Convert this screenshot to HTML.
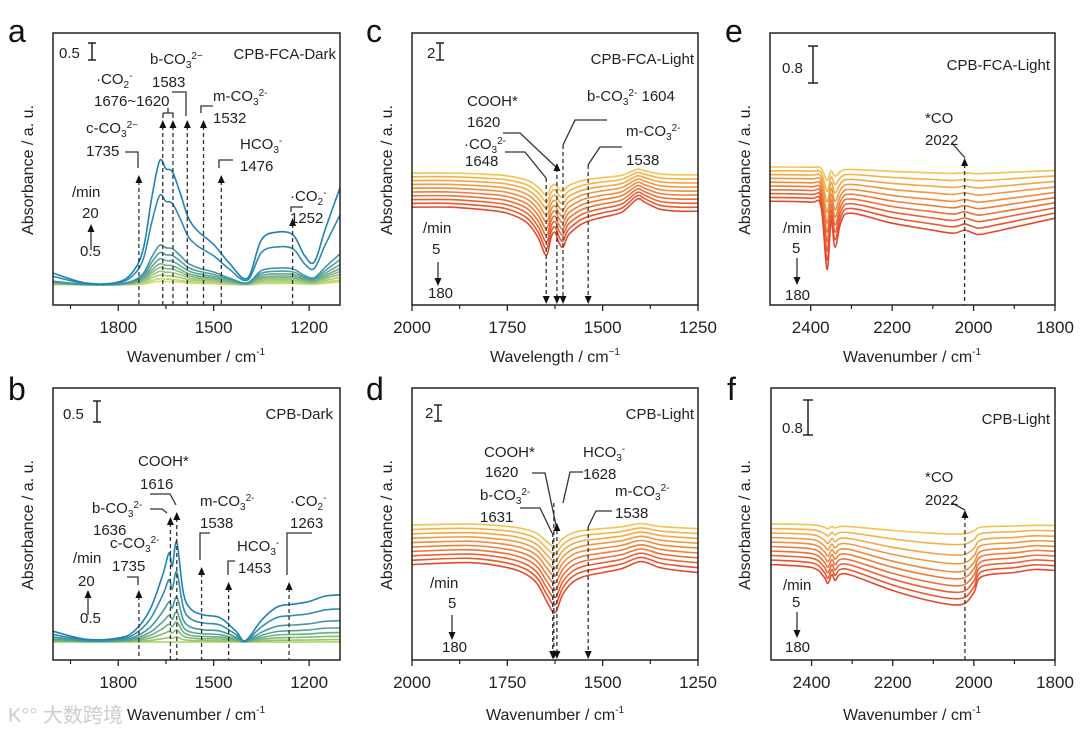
<!DOCTYPE html>
<html><head><meta charset="utf-8">
<style>
html,body{margin:0;padding:0;background:#fff;}
svg{display:block;font-family:"Liberation Sans",Arial,sans-serif;}
.t{font-size:15px;fill:#222;}
.tk{font-size:17px;fill:#222;}
.ti{font-size:16px;fill:#222;}
.pl{font-size:32px;fill:#111;}
.s{font-size:10px;}
</style></head>
<body>
<svg id="fig" width="1080" height="731" viewBox="0 0 1080 731" xmlns="http://www.w3.org/2000/svg">
<rect width="1080" height="731" fill="#fff"/>
<g id="curves"></g>
<g id="axes"></g>
<g id="marks" stroke="#333" stroke-width="1.3" fill="none"></g>

<text class="pl" x="8" y="42">a</text>
<text class="pl" x="8" y="400">b</text>
<text class="pl" x="366" y="42">c</text>
<text class="pl" x="366" y="400">d</text>
<text class="pl" x="725" y="42">e</text>
<text class="pl" x="727" y="400">f</text>

<text class="ti" x="196" y="362" text-anchor="middle">Wavenumber / cm<tspan class="s" dy="-7">-1</tspan></text>
<text class="ti" x="196" y="720" text-anchor="middle">Wavenumber / cm<tspan class="s" dy="-7">-1</tspan></text>
<text class="ti" x="555" y="362" text-anchor="middle">Wavelength / cm<tspan class="s" dy="-7">−1</tspan></text>
<text class="ti" x="555" y="720" text-anchor="middle">Wavenumber / cm<tspan class="s" dy="-7">-1</tspan></text>
<text class="ti" x="912" y="362" text-anchor="middle">Wavenumber / cm<tspan class="s" dy="-7">-1</tspan></text>
<text class="ti" x="912" y="720" text-anchor="middle">Wavenumber / cm<tspan class="s" dy="-7">-1</tspan></text>
<text class="ti" transform="translate(33,170) rotate(-90)" text-anchor="middle">Absorbance / a. u.</text>
<text class="ti" transform="translate(33,525) rotate(-90)" text-anchor="middle">Absorbance / a. u.</text>
<text class="ti" transform="translate(392,170) rotate(-90)" text-anchor="middle">Absorbance / a. u.</text>
<text class="ti" transform="translate(392,525) rotate(-90)" text-anchor="middle">Absorbance / a. u.</text>
<text class="ti" transform="translate(750,170) rotate(-90)" text-anchor="middle">Absorbance / a. u.</text>
<text class="ti" transform="translate(750,525) rotate(-90)" text-anchor="middle">Absorbance / a. u.</text>

<g>
<text class="t" x="59" y="58">0.5</text>
<path d="M92 43V60M88 43H96M88 60H96" stroke="#222" stroke-width="1.5"/>
<text class="t" x="336" y="59" text-anchor="end" font-size="16">CPB-FCA-Dark</text>
<text class="t" x="96" y="84">·CO<tspan class="s" dy="4">2</tspan><tspan class="s" dy="-9">-</tspan></text>
<text class="t" x="94" y="106">1676~1620</text>
<text class="t" x="150" y="64">b-CO<tspan class="s" dy="4">3</tspan><tspan class="s" dy="-9">2−</tspan></text>
<text class="t" x="152" y="87">1583</text>
<text class="t" x="213" y="101">m-CO<tspan class="s" dy="4">3</tspan><tspan class="s" dy="-9">2-</tspan></text>
<text class="t" x="213" y="123">1532</text>
<text class="t" x="86" y="133">c-CO<tspan class="s" dy="4">3</tspan><tspan class="s" dy="-9">2−</tspan></text>
<text class="t" x="86" y="156">1735</text>
<text class="t" x="240" y="149">HCO<tspan class="s" dy="4">3</tspan><tspan class="s" dy="-9">-</tspan></text>
<text class="t" x="240" y="171">1476</text>
<text class="t" x="290" y="201">·CO<tspan class="s" dy="4">2</tspan><tspan class="s" dy="-9">-</tspan></text>
<text class="t" x="290" y="223">1252</text>
<text class="t" x="72" y="197">/min</text>
<text class="t" x="82" y="218">20</text>
<text class="t" x="80" y="256">0.5</text>
</g>
<g>
<text class="t" x="63" y="419">0.5</text>
<path d="M97 401V422M93 401H101M93 422H101" stroke="#222" stroke-width="1.5"/>
<text class="t" x="333" y="419" text-anchor="end" font-size="16">CPB-Dark</text>
<text class="t" x="138" y="466">COOH*</text>
<text class="t" x="140" y="489">1616</text>
<text class="t" x="92" y="513">b-CO<tspan class="s" dy="4">3</tspan><tspan class="s" dy="-9">2-</tspan></text>
<text class="t" x="93" y="535">1636</text>
<text class="t" x="110" y="548">c-CO<tspan class="s" dy="4">3</tspan><tspan class="s" dy="-9">2-</tspan></text>
<text class="t" x="112" y="571">1735</text>
<text class="t" x="200" y="506">m-CO<tspan class="s" dy="4">3</tspan><tspan class="s" dy="-9">2-</tspan></text>
<text class="t" x="200" y="528">1538</text>
<text class="t" x="237" y="551">HCO<tspan class="s" dy="4">3</tspan><tspan class="s" dy="-9">-</tspan></text>
<text class="t" x="238" y="573">1453</text>
<text class="t" x="290" y="506">·CO<tspan class="s" dy="4">2</tspan><tspan class="s" dy="-9">-</tspan></text>
<text class="t" x="290" y="528">1263</text>
<text class="t" x="73" y="563">/min</text>
<text class="t" x="78" y="586">20</text>
<text class="t" x="80" y="623">0.5</text>
</g>
<g>
<text class="t" x="427" y="58">2</text>
<path d="M440 43V60M436 43H444M436 60H444" stroke="#222" stroke-width="1.5"/>
<text class="t" x="694" y="64" text-anchor="end" font-size="16">CPB-FCA-Light</text>
<text class="t" x="467" y="106">COOH*</text>
<text class="t" x="467" y="127">1620</text>
<text class="t" x="464" y="149">·CO<tspan class="s" dy="4">3</tspan><tspan class="s" dy="-9">2-</tspan></text>
<text class="t" x="465" y="166">1648</text>
<text class="t" x="587" y="101">b-CO<tspan class="s" dy="4">3</tspan><tspan class="s" dy="-9">2-</tspan><tspan dy="5"> 1604</tspan></text>
<text class="t" x="626" y="136">m-CO<tspan class="s" dy="4">3</tspan><tspan class="s" dy="-9">2-</tspan></text>
<text class="t" x="626" y="165">1538</text>
<text class="t" x="423" y="233">/min</text>
<text class="t" x="432" y="254">5</text>
<text class="t" x="428" y="298">180</text>
</g>
<g>
<text class="t" x="425" y="418">2</text>
<path d="M438 405V421M434 405H442M434 421H442" stroke="#222" stroke-width="1.5"/>
<text class="t" x="694" y="419" text-anchor="end" font-size="16">CPB-Light</text>
<text class="t" x="484" y="457">COOH*</text>
<text class="t" x="485" y="477">1620</text>
<text class="t" x="583" y="457">HCO<tspan class="s" dy="4">3</tspan><tspan class="s" dy="-9">-</tspan></text>
<text class="t" x="583" y="479">1628</text>
<text class="t" x="480" y="500">b-CO<tspan class="s" dy="4">3</tspan><tspan class="s" dy="-9">2-</tspan></text>
<text class="t" x="480" y="522">1631</text>
<text class="t" x="615" y="496">m-CO<tspan class="s" dy="4">3</tspan><tspan class="s" dy="-9">2-</tspan></text>
<text class="t" x="615" y="518">1538</text>
<text class="t" x="430" y="588">/min</text>
<text class="t" x="448" y="608">5</text>
<text class="t" x="442" y="652">180</text>
</g>
<g>
<text class="t" x="782" y="73">0.8</text>
<path d="M813 46V83M808 46H818M808 83H818" stroke="#222" stroke-width="1.5"/>
<text class="t" x="1050" y="70" text-anchor="end" font-size="16">CPB-FCA-Light</text>
<text class="t" x="925" y="123">*CO</text>
<text class="t" x="925" y="145">2022</text>
<text class="t" x="783" y="233">/min</text>
<text class="t" x="792" y="253">5</text>
<text class="t" x="785" y="300">180</text>
</g>
<g>
<text class="t" x="782" y="433">0.8</text>
<path d="M808 400V435M803 400H813M803 435H813" stroke="#222" stroke-width="1.5"/>
<text class="t" x="1050" y="424" text-anchor="end" font-size="16">CPB-Light</text>
<text class="t" x="925" y="482">*CO</text>
<text class="t" x="925" y="505">2022</text>
<text class="t" x="783" y="590">/min</text>
<text class="t" x="792" y="607">5</text>
<text class="t" x="785" y="652">180</text>
</g>
<text x="8" y="722" font-size="20" fill="#ccc" font-family="'Liberation Sans','Noto Sans CJK SC',sans-serif">K°° 大数跨境</text>
</svg>

<script>
const aWn  = [2005,1900,1800,1750,1720,1695,1670,1650,1630,1605,1580,1550,1500,1450,1394,1350,1300,1250,1215,1184,1150,1103];
const aAbs = [0.44,0.07,0.11,0.55,1.4,3.2,4.6,4.3,4.2,3.4,2.5,2.0,1.5,0.8,0.25,1.67,1.96,1.85,1.1,0.85,2.04,3.6];
const aScales = [1,0.72,0.32,0.26,0.21,0.17,0.14,0.11,0.08,0.05,0.03];
const bWn  = [2005,1900,1800,1750,1700,1660,1640,1630,1616,1595,1570,1530,1480,1430,1400,1350,1300,1250,1200,1150,1103];
const bAbs = [0.4,0.1,0.15,0.4,1.2,2.5,3.3,2.8,3.7,1.8,1.2,1.0,0.9,0.4,0.05,0.8,1.3,1.4,1.5,1.7,1.75];
const bScales = [1,0.7,0.45,0.3,0.2,0.12,0.05,0];
const cWn  = [2000,1900,1800,1750,1700,1670,1648,1635,1625,1615,1604,1590,1560,1538,1500,1450,1410,1390,1350,1300,1250];
const cAbs = [0,0,-0.3,-0.6,-1.5,-3,-4.8,-3,-2.5,-3.5,-4,-2.8,-1.8,-1.4,-1,-0.5,0.8,0.5,-0.2,-0.4,-0.4];
const cOffsets = [0,-0.38,-0.76,-1.14,-1.52,-1.9,-2.28,-2.66,-3.04,-3.42];
const cScales  = [0.46,0.52,0.58,0.64,0.7,0.76,0.82,0.88,0.94,1];
const dWn  = [2000,1850,1750,1700,1670,1645,1625,1605,1580,1550,1500,1450,1400,1350,1300,1250];
const dAbs = [0,0.2,-0.3,-1.0,-2,-3.8,-4.8,-3,-1.8,-1.2,-0.8,-0.4,0.3,-0.3,-0.6,-0.8];
const dOffsets = [0,-0.44,-0.88,-1.32,-1.76,-2.2,-2.64,-3.08,-3.52,-3.96];
const dScales  = [0.45,0.51,0.57,0.63,0.69,0.75,0.81,0.87,0.93,1];
const eWn  = [2500,2400,2375,2360,2350,2340,2325,2300,2200,2100,2050,2022,2000,1980,1900,1800];
const eAbs = [0,-0.1,-0.5,-6.8,-2,-4.6,-2,-1.2,-2.2,-2.9,-3.2,-2.9,-3.2,-3.3,-2.6,-1.7];
const eOffsets = [0,-0.38,-0.76,-1.14,-1.52,-1.9,-2.28,-2.66,-3.04,-3.42];
const eScales  = [0.2,0.3,0.4,0.5,0.6,0.68,0.76,0.84,0.92,1];
const fWn  = [2500,2400,2370,2360,2350,2342,2330,2300,2200,2100,2030,2000,1980,1900,1850,1800];
const fAbs = [0,-0.3,-1.2,-1.9,-1.0,-1.6,-1.0,-1.1,-2.6,-3.7,-4.0,-2.8,-1.2,-0.8,-0.5,-0.6];
const fOffsets = [0,-0.45,-0.9,-1.35,-1.8,-2.25,-2.7,-3.15,-3.6,-4.05];
const fScales  = [0.25,0.4,0.55,0.65,0.74,0.8,0.86,0.91,0.96,1];
const abTicks = [1800,1500,1200];
const abMinor = [1950,1650,1350];
const cdTicks = [2000,1750,1500,1250];
const cdMinor = [1875,1625,1375];
const efTicks = [2400,2200,2000,1800];
const efMinor = [2300,2100,1900];
const aBands = [1735,1660,1628,1583,1532,1476,1252];
const bBands = [1735,1636,1616,1538,1453,1263];
const cBands = [1648,1620,1604,1538];
const dBands = [1631,1628,1620,1538];
const eBands = [2022];
const fBands = [2022];

const NS = "http://www.w3.org/2000/svg";
const gC = document.getElementById('curves');
const gA = document.getElementById('axes');
const gM = document.getElementById('marks');

function mk(tag, attrs, parent){
  const e = document.createElementNS(NS, tag);
  for (const k in attrs) e.setAttribute(k, attrs[k]);
  parent.appendChild(e);
  return e;
}
function panel(x0,x1,y0,y1,wLeft,wRight,base,k){
  return {x0,x1,y0,y1,
    x: w => x0 + (wLeft - w)/(wLeft - wRight)*(x1-x0),
    y: v => base - v*k};
}
const P = {
  a: panel(53,340,33,305,2005,1103,285,27),
  b: panel(53,340,388,660,2005,1103,642,27),
  c: panel(412,698,33,305,2000,1250,173,10),
  d: panel(412,698,388,660,2000,1250,525,10),
  e: panel(770,1055,33,305,2500,1800,167,10),
  f: panel(771,1055,388,660,2500,1800,524,10)
};
function smoothPath(pts){
  let d = `M${pts[0][0].toFixed(1)},${pts[0][1].toFixed(1)}`;
  for (let i=0;i<pts.length-1;i++){
    const p0=pts[Math.max(0,i-1)], p1=pts[i], p2=pts[i+1], p3=pts[Math.min(pts.length-1,i+2)];
    const c1=[p1[0]+(p2[0]-p0[0])/6, p1[1]+(p2[1]-p0[1])/6];
    const c2=[p2[0]-(p3[0]-p1[0])/6, p2[1]-(p3[1]-p1[1])/6];
    d += ` C${c1[0].toFixed(1)},${c1[1].toFixed(1)} ${c2[0].toFixed(1)},${c2[1].toFixed(1)} ${p2[0].toFixed(1)},${p2[1].toFixed(1)}`;
  }
  return d;
}
function lerpColor(c1,c2,t){
  const h=c=>[parseInt(c.slice(1,3),16),parseInt(c.slice(3,5),16),parseInt(c.slice(5,7),16)];
  const a=h(c1), b=h(c2);
  return 'rgb('+a.map((v,i)=>Math.round(v+(b[i]-v)*t)).join(',')+')';
}
function drawSeries(key, wn, abs, scales, offsets, cStart, cEnd){
  const p = P[key];
  const n = scales.length;
  const order = offsets ? [...Array(n).keys()] : [...Array(n).keys()].reverse();
  order.forEach(i => {
    const off = offsets ? offsets[i] : 0;
    const pts = wn.map((w,j) => [p.x(w), p.y(off + scales[i]*abs[j])]);
    const t = n>1 ? i/(n-1) : 0;
    const path = mk('path', {d: smoothPath(pts), fill:'none', stroke: lerpColor(cStart,cEnd,t), 'stroke-width':1.6}, gC);
    
    
  });
}
drawSeries('a', aWn, aAbs, aScales, null, '#1d82b6', '#cfe06a');
drawSeries('b', bWn, bAbs, bScales, null, '#1d82b6', '#a9d15a');
drawSeries('c', cWn, cAbs, cScales, cOffsets, '#f4c24e', '#e5482d');
drawSeries('d', dWn, dAbs, dScales, dOffsets, '#f4c24e', '#e5482d');
drawSeries('e', eWn, eAbs, eScales, eOffsets, '#f4c24e', '#e5482d');
drawSeries('f', fWn, fAbs, fScales, fOffsets, '#f4c24e', '#e5482d');

function drawAxes(key, ticks, minor){
  const p = P[key];
  const fr = mk('rect', {x:p.x0, y:p.y0, width:p.x1-p.x0, height:p.y1-p.y0, fill:'none', stroke:'#222', 'stroke-width':1.5}, gA);
  
  
  ticks.forEach(w => {
    const x = p.x(w);
    mk('line', {x1:x, x2:x, y1:p.y1, y2:p.y1+6, stroke:'#222','stroke-width':1.3}, gA);
    const t = mk('text', {x:x, y:p.y1+28, 'text-anchor':'middle', class:'tk'}, gA);
    t.textContent = w;
    
    
  });
  minor.forEach(w => {
    const x = p.x(w);
    mk('line', {x1:x, x2:x, y1:p.y1, y2:p.y1+4, stroke:'#222','stroke-width':1.2}, gA);
  });
}
drawAxes('a', abTicks, abMinor);
drawAxes('b', abTicks, abMinor);
drawAxes('c', cdTicks, cdMinor);
drawAxes('d', cdTicks, cdMinor);
drawAxes('e', efTicks, efMinor);
drawAxes('f', efTicks, efMinor);

function tri(x,y,up){
  const d = up ? `M${x-3.5},${y+8} L${x+3.5},${y+8} L${x},${y} Z` : `M${x-3.5},${y-8} L${x+3.5},${y-8} L${x},${y} Z`;
  mk('path', {d, fill:'#111', stroke:'none'}, gM);
}
function bandUp(key, w, tipY){
  const p = P[key], x = p.x(w);
  const l = mk('line', {x1:x, x2:x, y1:tipY+6, y2:p.y1, 'stroke-dasharray':'4,3'}, gM);
  
  
  tri(x, tipY, true);
}
function bandDown(key, w, topY){
  const p = P[key], x = p.x(w);
  const l = mk('line', {x1:x, x2:x, y1:topY, y2:p.y1-6, 'stroke-dasharray':'4,3'}, gM);
  
  
  tri(x, p.y1-1, false);
}
function poly(pts){ mk('polyline', {points: pts.map(q=>q.join(',')).join(' ')}, gM); }

const aTips = [175,120,120,120,120,175,218];
aBands.forEach((w,i)=>bandUp('a', w, aTips[i]));
poly([[125,152],[138,152],[138,168]]);
poly([[163,113],[163,118]]); poly([[163,113],[173,113],[173,118]]); poly([[168,113],[168,108]]);
poly([[172,92],[186,92],[186,116]]);
poly([[213,106],[201,106],[201,113]]);
poly([[233,160],[219,160],[219,168]]);
poly([[303,207],[291,207],[291,212]]);
mk('line',{x1:91,x2:91,y1:250,y2:232},gM); tri(91,224,true);

const bTips = [590,517,512,567,582,582];
bBands.forEach((w,i)=>bandUp('b', w, bTips[i]));
poly([[127,577],[138,577],[138,585]]);
poly([[150,509],[162,509],[167,513]]);
poly([[150,494],[170,494],[176,505]]);
poly([[210,533],[200,533],[200,560]]);
poly([[235,561],[228,561],[228,575]]);
poly([[312,533],[287,533],[287,575]]);
mk('line',{x1:88,x2:88,y1:615,y2:598},gM); tri(88,590,true);

const cTops = [178,168,145,165];
cBands.forEach((w,i)=>bandDown('c', w, cTops[i]));
poly([[503,133],[520,133],[557,168]]); tri(P.c.x(1620),163,true);
poly([[505,152],[525,152],[546,178]]);
poly([[607,120],[575,120],[563,145]]);
poly([[622,147],[600,147],[588,165]]);
mk('line',{x1:438,x2:438,y1:262,y2:278},gM); tri(438,286,false);

const dTops = [533,503,530,527];
dBands.forEach((w,i)=>bandDown('d', w, dTops[i]));
poly([[520,508],[540,508],[552,533]]);
poly([[532,473],[545,473],[557,530]]); tri(P.d.x(1620),523,true);
poly([[583,472],[570,472],[563,503]]);
poly([[612,511],[596,511],[588,527]]);
mk('line',{x1:452,x2:452,y1:615,y2:632},gM); tri(452,640,false);

bandUp('e', eBands[0], 158);
poly([[952,143],[965,158]]);
bandUp('f', fBands[0], 510);
poly([[952,503],[965,510]]);
mk('line',{x1:797,x2:797,y1:258,y2:277},gM); tri(797,285,false);
mk('line',{x1:797,x2:797,y1:612,y2:630},gM); tri(797,638,false);
</script>
</body></html>
